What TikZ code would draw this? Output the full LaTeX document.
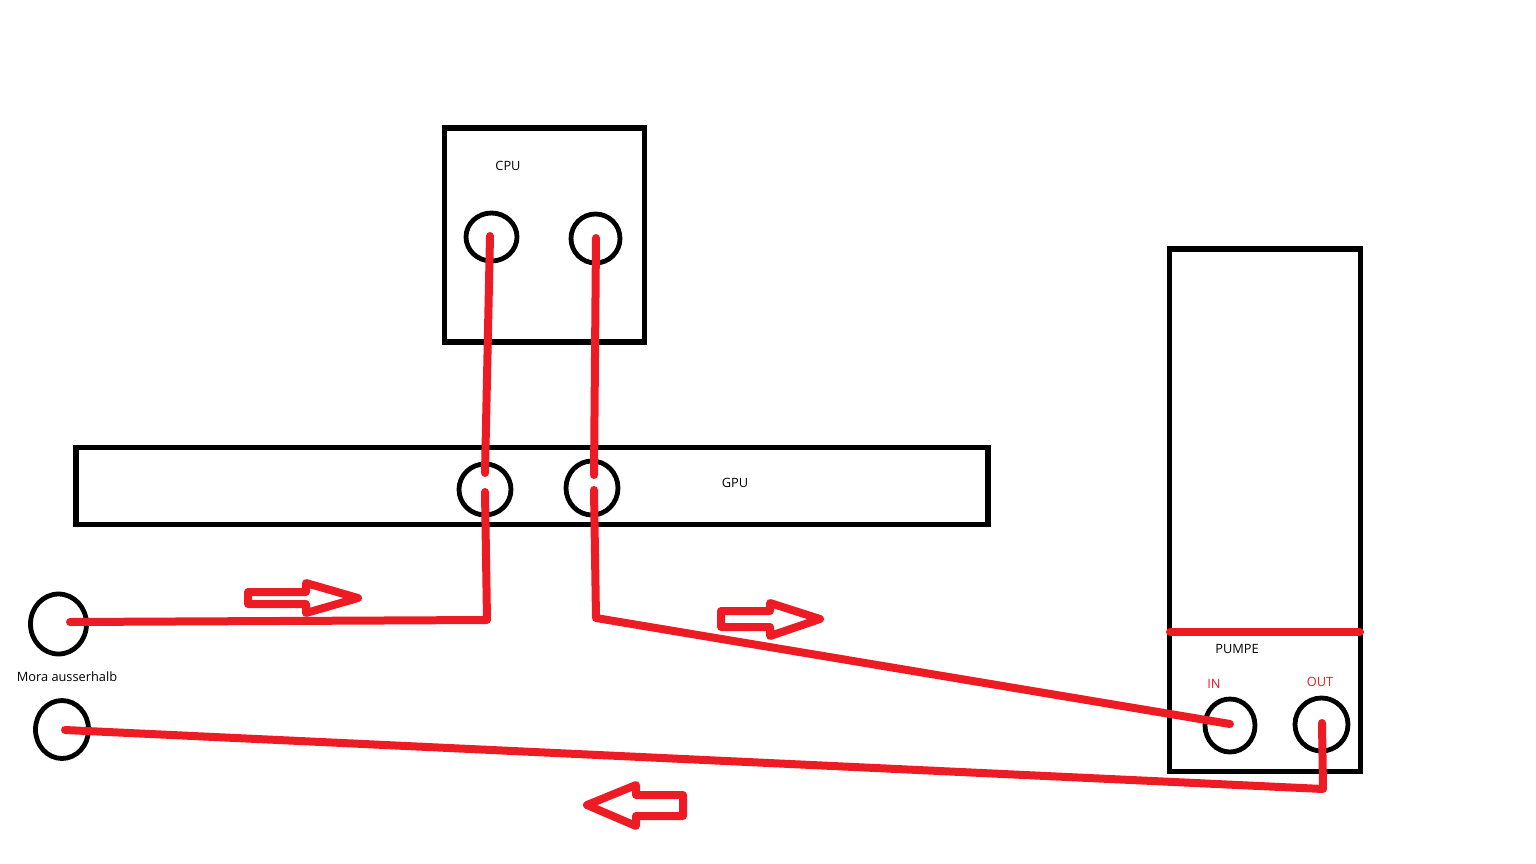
\documentclass[tikz,border=0pt]{standalone}
\usepackage{fontspec}
\setmainfont{Open Sans}
\usetikzlibrary{positioning}
\usetikzlibrary{shapes.geometric}
\definecolor{pipered}{RGB}{237,28,36}
\tikzset{
  box/.style={draw=black, line width=3.8pt, inner sep=0pt, outer sep=0pt},
  port/.style={ellipse, draw=black, line width=3.6pt, inner sep=0pt, outer sep=0pt},
  pipe/.style={color=pipered, line width=6pt, line cap=round, line join=round},
  label/.style={inner sep=0pt, font=\fontsize{9.6}{11}\selectfont},
}
\begin{document}
\begin{tikzpicture}[x=0.75pt, y=-0.75pt]
\useasboundingbox[fill=white] (0,0) rectangle (1536,864);

\node[box, minimum width=149.6pt, minimum height=160.5pt] (cpu) at (544.5,235) {};
\node[box, minimum width=684pt, minimum height=57.75pt] (gpu) at (532,486) {};
\node[box, minimum width=143.25pt, minimum height=391.9pt] (pump) at (1265,510.25) {};

\node[port, minimum width=38.25pt, minimum height=36pt] (cpuA) at (491.5,237) {};
\node[port, minimum width=36.75pt, minimum height=36.75pt] (cpuB) at (595.5,238.5) {};
\node[port, minimum width=39pt, minimum height=38.25pt] (gpuA) at (485,489.5) {};
\node[port, minimum width=39pt, minimum height=40.5pt] (gpuB) at (592,488) {};
\node[port, minimum width=42pt, minimum height=45pt] (moraA) at (58.5,624) {};
\node[port, minimum width=39.75pt, minimum height=43.5pt] (moraB) at (62,729.5) {};
\node[port, minimum width=37.5pt, minimum height=39.75pt] (pumpIn) at (1230,725.5) {};
\node[port, minimum width=39.75pt, minimum height=39.75pt] (pumpOut) at (1321.5,724.5) {};

\node[label] (cpulabel) at (508,166) {CPU};
\node[label] (gpulabel) at (735,483) {GPU};
\node[label] (pumplabel) at (1237,649) {PUMPE};
\node[label] (moralabel) at (67,677) {Mora ausserhalb};
\node[label, text=pipered] (inlabel) at (1214,684) {IN};
\node[label, text=pipered] (outlabel) at (1320,682) {OUT};

% pipe ends and corners
\coordinate (cpuAend) at (490,236);
\coordinate (cpuBend) at (596,238);
\coordinate (gpuAtop) at (485,473);
\coordinate (gpuBtop) at (594,475);
\coordinate (gpuAbot) at (485,492);
\coordinate (gpuBbot) at (594,490);
\coordinate (cornerA) at (487,620);
\coordinate (cornerB) at (596,618);
\coordinate (moraAend) at (70,622);
\coordinate (moraBend) at (65,730);
\coordinate (inend) at (1230,724);
\coordinate (outend) at (1322,723);
\coordinate (cornerC) at (1323,789);
\coordinate (sepL) at (1170,632);
\coordinate (sepR) at (1360,632);

\draw[pipe] (cpuAend) -- (gpuAtop);
\draw[pipe] (cpuBend) -- (gpuBtop);
\draw[pipe] (gpuAbot) -- (cornerA) -- (moraAend);
\draw[pipe] (gpuBbot) -- (cornerB) -- (inend);
\draw[pipe] (moraBend) -- (cornerC) -- (outend);
\draw[pipe] (sepL) -- (sepR);

% flow arrows
\draw[pipe] (248,592) -- (306,592) -- (306,583) -- (358,598) -- (306,613) -- (306,604) -- (248,604) -- cycle;
\draw[pipe] (721,611) -- (770,611) -- (770,603) -- (820,619) -- (770,636) -- (770,627) -- (721,627) -- cycle;
\draw[pipe] (683,795) -- (636,795) -- (636,785) -- (587,805) -- (636,826) -- (636,816) -- (683,816) -- cycle;

\end{tikzpicture}
\end{document}
